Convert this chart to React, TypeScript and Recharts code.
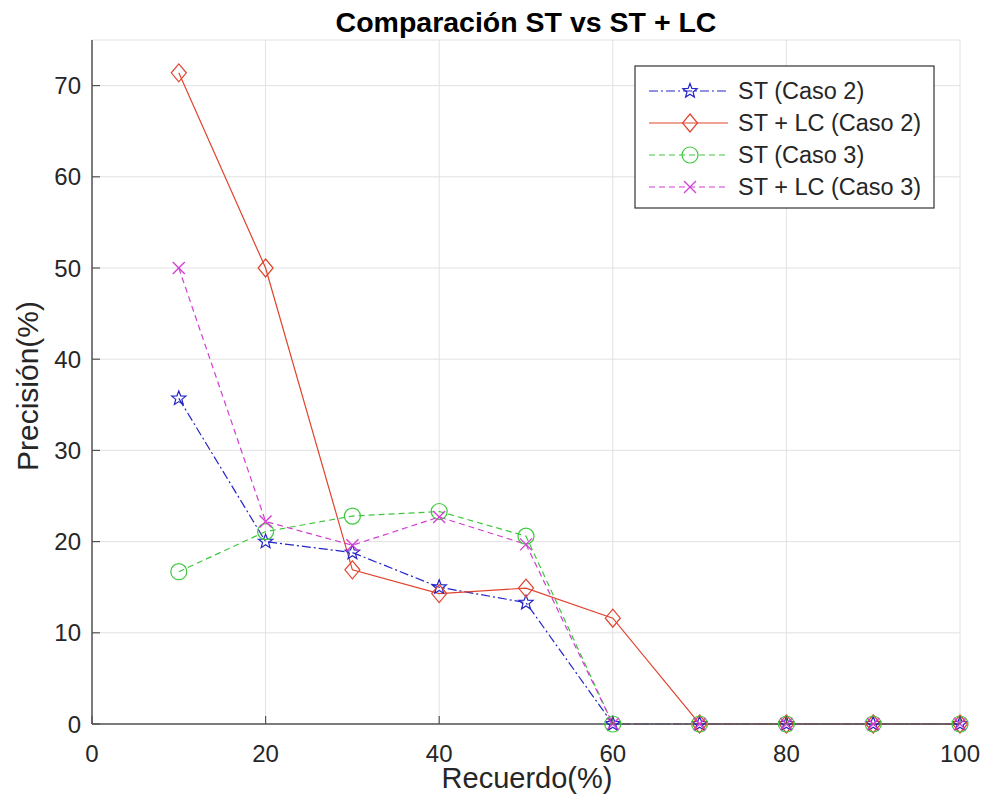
import React from 'react';
import { LineChart, Line, XAxis, YAxis, CartesianGrid } from 'recharts';

// Recall levels (%) and precision (%) per configuration
const recall = [10, 20, 30, 40, 50, 60, 70, 80, 90, 100];
const stCaso2 = [35.7, 20, 18.8, 15, 13.3, 0, 0, 0, 0, 0];
const stLcCaso2 = [71.4, 50, 16.9, 14.3, 14.9, 11.6, 0, 0, 0, 0];
const stCaso3 = [16.7, 21.1, 22.8, 23.3, 20.6, 0, 0, 0, 0, 0];
const stLcCaso3 = [50, 22.2, 19.6, 22.7, 19.7, 0, 0, 0, 0, 0];

const xTicks = [0, 20, 40, 60, 80, 100];
const yTicks = [0, 10, 20, 30, 40, 50, 60, 70];

const FONT = '"Liberation Sans", Arial, Helvetica, sans-serif';
const AXIS = '#555555';
const TICK_MARGIN = 12;

const data = recall.map((r, i) => ({
  recall: r,
  st2: stCaso2[i],
  stlc2: stLcCaso2[i],
  st3: stCaso3[i],
  stlc3: stLcCaso3[i],
}));

type Shape = 'star' | 'diamond' | 'circle' | 'cross';

const starPoints = (cx: number, cy: number, ro: number, ri: number) => {
  const pts: string[] = [];
  for (let k = 0; k < 10; k++) {
    const r = k % 2 === 0 ? ro : ri;
    const a = -Math.PI / 2 + (k * Math.PI) / 5;
    pts.push(`${cx + r * Math.cos(a)},${cy + r * Math.sin(a)}`);
  }
  return pts.join(' ');
};

const Marker = ({ shape, cx, cy, color }: { shape: Shape; cx: number; cy: number; color: string }) => {
  if (shape === 'star') {
    return <polygon points={starPoints(cx, cy, 7.5, 3.2)} fill="none" stroke={color} strokeWidth={1.2} />;
  }
  if (shape === 'diamond') {
    return (
      <polygon
        points={`${cx},${cy - 9} ${cx + 7.5},${cy} ${cx},${cy + 9} ${cx - 7.5},${cy}`}
        fill="none"
        stroke={color}
        strokeWidth={1.2}
      />
    );
  }
  if (shape === 'circle') {
    return <circle cx={cx} cy={cy} r={8} fill="none" stroke={color} strokeWidth={1.2} />;
  }
  return (
    <g stroke={color} strokeWidth={1.3}>
      <line x1={cx - 6} y1={cy - 6} x2={cx + 6} y2={cy + 6} />
      <line x1={cx - 6} y1={cy + 6} x2={cx + 6} y2={cy - 6} />
    </g>
  );
};

const series = [
  { key: 'st2', name: 'ST (Caso 2)', color: '#2424c8', dash: '9 3 2 3', shape: 'star' as Shape },
  { key: 'stlc2', name: 'ST + LC (Caso 2)', color: '#e0442e', dash: undefined, shape: 'diamond' as Shape },
  { key: 'st3', name: 'ST (Caso 3)', color: '#3cc83c', dash: '6 4', shape: 'circle' as Shape },
  { key: 'stlc3', name: 'ST + LC (Caso 3)', color: '#d43cd4', dash: '6 4', shape: 'cross' as Shape },
];

// ticks point into the plot area, MATLAB style
const XTick = (props: any) => {
  const { x, y, payload } = props;
  const axisY = y - TICK_MARGIN;
  return (
    <g>
      <line x1={x} y1={axisY} x2={x} y2={axisY - 8} stroke={AXIS} strokeWidth={1.2} />
      <text x={x} y={axisY + 38} textAnchor="middle" fontFamily={FONT} fontSize={24} fill="#262626">
        {payload.value}
      </text>
    </g>
  );
};

const YTick = (props: any) => {
  const { x, y, payload } = props;
  const axisX = x + TICK_MARGIN;
  return (
    <g>
      <line x1={axisX} y1={y} x2={axisX + 8} y2={y} stroke={AXIS} strokeWidth={1.2} />
      <text x={x + 1} y={y + 8.5} textAnchor="end" fontFamily={FONT} fontSize={24} fill="#262626">
        {payload.value}
      </text>
    </g>
  );
};

const LegendBox = () => {
  const left = 635;
  const top = 66;
  const rows = [91, 123, 155, 187];
  return (
    <g>
      <rect x={left} y={top} width={299} height={142} fill="#ffffff" stroke="#333333" strokeWidth={1.2} />
      {series.map((s, i) => (
        <g key={s.key}>
          <line x1={649} y1={rows[i]} x2={728} y2={rows[i]} stroke={s.color} strokeWidth={1.2} strokeDasharray={s.dash} />
          <Marker shape={s.shape} cx={690} cy={rows[i]} color={s.color} />
          <text x={738} y={rows[i] + 8} fontFamily={FONT} fontSize={23.5} fill="#262626">
            {s.name}
          </text>
        </g>
      ))}
    </g>
  );
};

export default function App() {
  return (
    <div style={{ position: 'absolute', left: 0, top: 0, width: 986, height: 806, background: '#ffffff' }}>
      <LineChart width={986} height={806} data={data} margin={{ top: 40, right: 26, bottom: 0, left: 0 }}>
        <CartesianGrid stroke="#e2e2e2" strokeWidth={1} />
        <XAxis
          dataKey="recall"
          type="number"
          domain={[0, 100]}
          ticks={xTicks}
          interval={0}
          height={82}
          tickSize={0}
          tickMargin={TICK_MARGIN}
          tick={<XTick />}
          stroke={AXIS}
          strokeWidth={1.5}
        />
        <YAxis
          type="number"
          domain={[0, 75]}
          ticks={yTicks}
          interval={0}
          width={92}
          tickSize={0}
          tickMargin={TICK_MARGIN}
          tick={<YTick />}
          stroke={AXIS}
          strokeWidth={1.5}
        />
        {series.map((s) => (
          <Line
            key={s.key}
            type="linear"
            dataKey={s.key}
            name={s.name}
            stroke={s.color}
            strokeWidth={1.2}
            strokeDasharray={s.dash}
            isAnimationActive={false}
            activeDot={false}
            dot={(p: any) => (
              <Marker key={`${s.key}-${p.index}`} shape={s.shape} cx={p.cx} cy={p.cy} color={s.color} />
            )}
          />
        ))}
      </LineChart>
      <svg width={986} height={806} style={{ position: 'absolute', left: 0, top: 0, pointerEvents: 'none' }}>
        <text x={526} y={32} textAnchor="middle" fontFamily={FONT} fontSize={28.5} fontWeight="bold" fill="#000000">
          Comparación ST vs ST + LC
        </text>
        <text x={527} y={788} textAnchor="middle" fontFamily={FONT} fontSize={29} fill="#262626">
          Recuerdo(%)
        </text>
        <text
          x={0}
          y={0}
          transform="translate(38 386) rotate(-90)"
          textAnchor="middle"
          fontFamily={FONT}
          fontSize={30}
          fill="#262626"
        >
          Precisión(%)
        </text>
        <LegendBox />
      </svg>
    </div>
  );
}
